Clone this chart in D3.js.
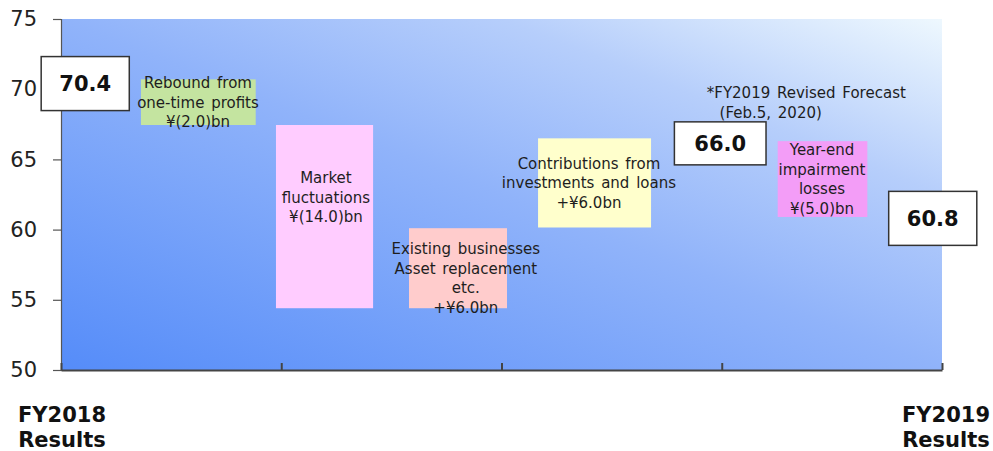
<!DOCTYPE html>
<html>
<head>
<meta charset="utf-8">
<script src="https://cdn.jsdelivr.net/npm/d3@7"></script>
<style>
  body { margin: 0; background: #fff; }
  svg { display: block; font-family: "DejaVu Sans", Verdana, sans-serif; }
</style>
</head>
<body>
<svg id="chart" width="993" height="451"></svg>
<script>
// y ticks
const yTicks = [50, 55, 60, 65, 70, 75];

// result boxes
const totalLabels = ['70.4', '66.0', '60.8'];
const totalValues = [70.4, 66.0, 60.8];

// waterfall steps (in chart units)
const stepNames = ['rebound', 'market', 'existing', 'contrib', 'impairment'];
const stepFrom = [70.7, 67.45, 54.4, 60.15, 66.3];
const stepTo = [67.45, 54.4, 60.1, 66.5, 60.9];
const stepText = [
  ['Rebound from', 'one-time profits', '¥(2.0)bn'],
  ['Market', 'fluctuations', '¥(14.0)bn'],
  ['Existing businesses', 'Asset replacement', 'etc.', '+¥6.0bn'],
  ['Contributions from', 'investments and loans', '+¥6.0bn'],
  ['Year-end', 'impairment', 'losses', '¥(5.0)bn']
];

const bottomLabels = [['FY2018', 'Results'], ['FY2019', 'Results']];
const noteText = ['*FY2019 Revised Forecast', ' (Feb.5, 2020)'];

// layout (x in axis units, 0..4 across the plot)
const stepColors = ['#c4e4a0', '#ffccff', '#ffcccc', '#ffffcc', '#f39df7'];
const stepX0 = [0.363, 0.976, 1.580, 2.166, 3.254];
const stepX1 = [0.884, 1.417, 2.025, 2.679, 3.661];
const stepTextX = [0.622, 1.203, 1.838, 2.397, 3.455];
const stepTextY = [null, 62.3, 56.55, null, null];
const totalX0 = [-0.09, 2.785, 3.758];
const totalX1 = [0.31, 3.201, 4.158];
const totalH = [54, 43, 54];
const totalDY = [0, -2, 0];

const svg = d3.select('#chart');
const plotL = 61, plotR = 942, plotT = 19, plotB = 370;

const x = d3.scaleLinear().domain([0, 4]).range([plotL, plotR]);
const y = d3.scaleLinear().domain([50, 75]).range([plotB, plotT]);

const defs = svg.append('defs');
const grad = defs.append('linearGradient')
  .attr('id', 'bg')
  .attr('x1', 0).attr('y1', 1).attr('x2', 1).attr('y2', 0);
[[0, '#558cf9'], [0.5, '#90b3fa'], [0.75, '#b6cefb'], [1, '#eef8fe']].forEach(s => {
  grad.append('stop').attr('offset', s[0]).attr('stop-color', s[1]);
});

svg.append('rect')
  .attr('x', plotL).attr('y', plotT)
  .attr('width', plotR - plotL).attr('height', plotB - plotT)
  .attr('fill', 'url(#bg)');

// y axis
const yAxis = svg.append('g')
  .attr('transform', `translate(${plotL},0)`)
  .call(d3.axisLeft(y).tickValues(yTicks).tickSize(8).tickPadding(16));
yAxis.select('.domain').attr('stroke', '#555').attr('stroke-width', 1.2);
yAxis.selectAll('line').attr('stroke', '#555').attr('stroke-width', 1.2);
yAxis.selectAll('text')
  .attr('font-size', 21).attr('fill', '#222')
  .attr('font-family', '"DejaVu Sans", Verdana, sans-serif');

// x axis (ticks inward)
const xAxis = svg.append('g')
  .attr('transform', `translate(0,${plotB})`)
  .call(d3.axisBottom(x).tickValues([0, 1, 2, 3, 4]).tickSize(-7).tickSizeOuter(0).tickFormat(''));
xAxis.select('.domain').attr('stroke', '#444').attr('stroke-width', 2);
xAxis.selectAll('line').attr('stroke', '#444').attr('stroke-width', 2);

// steps
const steps = stepNames.map((n, i) => ({
  name: n, from: stepFrom[i], to: stepTo[i], lines: stepText[i], color: stepColors[i],
  x0: stepX0[i], x1: stepX1[i], tx: stepTextX[i], ty: stepTextY[i]
}));

svg.append('g').selectAll('rect')
  .data(steps)
  .join('rect')
    .attr('x', d => x(d.x0))
    .attr('width', d => x(d.x1) - x(d.x0))
    .attr('y', d => y(Math.max(d.from, d.to)))
    .attr('height', d => Math.abs(y(d.from) - y(d.to)))
    .attr('fill', d => d.color);

const lineH = 19.5;
const labels = svg.append('g').selectAll('text')
  .data(steps)
  .join('text')
    .attr('text-anchor', 'middle')
    .attr('font-size', 15)
    .attr('fill', '#1e1e1e')
    .attr('word-spacing', 2);
labels.each(function(d) {
  const cy = d.ty !== null ? y(d.ty) : (y(d.from) + y(d.to)) / 2;
  const start = cy - (d.lines.length - 1) * lineH / 2;
  d3.select(this).selectAll('tspan')
    .data(d.lines)
    .join('tspan')
      .attr('x', x(d.tx))
      .attr('y', (t, j) => start + j * lineH)
      .attr('dy', '0.36em')
      .text(t => t);
});

// totals
const totals = totalValues.map((v, i) => ({
  v: v, label: totalLabels[i], x0: totalX0[i], x1: totalX1[i], h: totalH[i], dy: totalDY[i]
}));
const tg = svg.append('g').selectAll('g')
  .data(totals)
  .join('g');
tg.append('rect')
  .attr('x', d => x(d.x0))
  .attr('width', d => x(d.x1) - x(d.x0))
  .attr('y', d => y(d.v) + d.dy - d.h / 2)
  .attr('height', d => d.h)
  .attr('fill', '#fff')
  .attr('stroke', '#333')
  .attr('stroke-width', 1.5);
tg.append('text')
  .attr('x', d => (x(d.x0) + x(d.x1)) / 2)
  .attr('y', d => y(d.v) + d.dy)
  .attr('dy', '0.36em')
  .attr('text-anchor', 'middle')
  .attr('font-size', 21)
  .attr('font-weight', 'bold')
  .attr('fill', '#111')
  .text(d => d.label);

// forecast note
svg.append('text')
  .attr('font-size', 15)
  .attr('fill', '#1e1e1e')
  .attr('word-spacing', 2)
  .selectAll('tspan')
  .data(noteText)
  .join('tspan')
    .attr('x', (t, j) => x(2.932) + j * 6)
    .attr('y', (t, j) => y(69.75) + j * 20)
    .attr('dy', '0.36em')
    .text(t => t);

// bottom labels
const bl = svg.append('g').selectAll('text')
  .data(bottomLabels)
  .join('text')
    .attr('text-anchor', 'middle')
    .attr('font-size', 21)
    .attr('font-weight', 'bold')
    .attr('fill', '#111');
bl.each(function(d, i) {
  const cx = i === 0 ? 62 : 946;
  d3.select(this).selectAll('tspan')
    .data(d)
    .join('tspan')
      .attr('x', cx)
      .attr('y', (t, j) => 422 + j * 25)
      .text(t => t);
});
</script>
</body>
</html>
